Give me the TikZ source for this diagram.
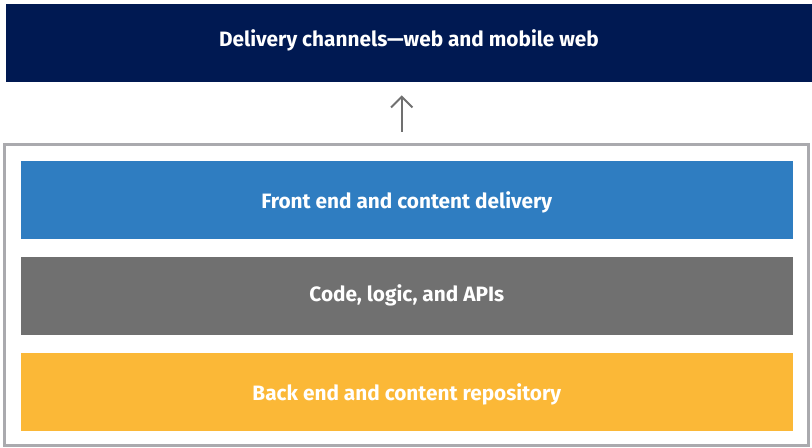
\documentclass[tikz,border=0pt]{standalone}
\usepackage{fontspec}
\setmainfont{Fira Sans}
\usetikzlibrary{arrows.meta}
\definecolor{navybar}{HTML}{001952}
\definecolor{bluebar}{HTML}{2F7DC1}
\definecolor{graybar}{HTML}{707070}
\definecolor{yellowbar}{HTML}{FBB837}
\definecolor{framegray}{HTML}{AAAAAE}
\definecolor{arrowgray}{HTML}{707070}
\tikzset{
  layer/.style={draw=none, inner sep=0pt, minimum width=771.5*0.75pt, minimum height=78*0.75pt,
    text height=10.75pt, text depth=0pt,
    text=white, font=\fontsize{15.6}{18}\selectfont\bfseries},
  upflow/.style={draw=arrowgray, line width=1.5pt, -{Straight Barb[length=8pt,width=16pt,line width=1.5pt]}}
}
\begin{document}
\begin{tikzpicture}[x=0.75pt,y=0.75pt,yscale=-1]
\useasboundingbox (0,0) rectangle (812,447);

% Channels
\node [layer, fill=navybar, minimum width=806*0.75pt, minimum height=77.5*0.75pt, text depth=5pt] (channels) at (409,43) {Delivery channels---web and mobile web};

% Frame round the layers
\draw [framegray, line width=2.6pt] (4.5,144.5) rectangle (808.5,445.5);
\node [inner sep=0pt, minimum width=804*0.75pt, minimum height=301*0.75pt] (frame) at (406.5,295) {};

% Layers
\node [layer, fill=bluebar, text height=13pt] (frontend) at (406.8,200) {Front end and content delivery};
\node [layer, fill=graybar, text depth=2.5pt] (logic) at (406.8,296) {Code, logic, and APIs};
\node [layer, fill=yellowbar, text height=12pt] (backend) at (406.8,392) {Back end and content repository};

% Arrow
\coordinate (arrowbase) at (401.7,131.7);
\draw [upflow, shorten >=13.3*0.75pt] (arrowbase) -- (arrowbase |- channels.south);

\end{tikzpicture}
\end{document}
